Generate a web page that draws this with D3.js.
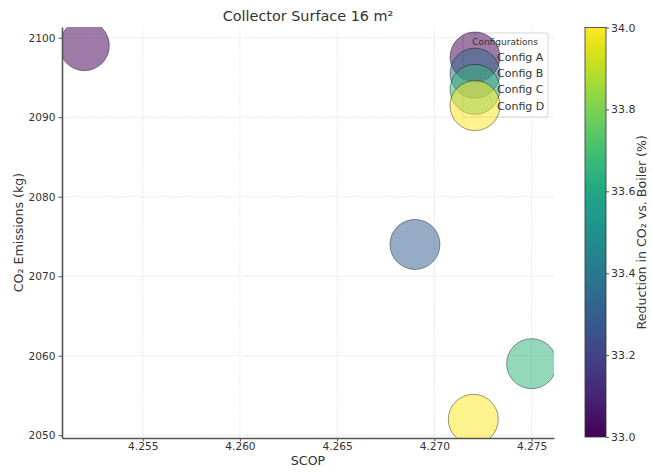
<!DOCTYPE html>
<html>
<head>
<meta charset="utf-8">
<script src="https://cdn.jsdelivr.net/npm/d3@7"></script>
<style>
  html, body { margin: 0; padding: 0; background: #fff; }
  svg { display: block; font-family: "DejaVu Sans", sans-serif; }
</style>
</head>
<body>
<svg id="chart" width="651" height="472"></svg>
<script>
// Bubble chart: SCOP vs CO2 emissions, coloured by CO2 reduction vs. boiler
const configs = ["Config A", "Config B", "Config C", "Config D"];
const scop = [4.252, 4.269, 4.275, 4.272];
const emissions = [2099, 2074, 2059, 2052];
const reduction = [33.0, 33.3, 33.65, 34.0];
const xTicks = [4.255, 4.260, 4.265, 4.270, 4.275];
const yTicks = [2050, 2060, 2070, 2080, 2090, 2100];
const cbTicks = [33.0, 33.2, 33.4, 33.6, 33.8, 34.0];

const svg = d3.select("#chart");
const plot = { left: 62, right: 554, top: 27, bottom: 438 };
const cb = { left: 585, right: 606, top: 27.5, bottom: 437 };
const R = 25;
const fillAlpha = 0.52;
const textColor = "#333";

// 5% padding around the data, like the default autoscale
function padded(vals) {
  const [lo, hi] = d3.extent(vals);
  const m = (hi - lo) * 0.05;
  return [lo - m, hi + m];
}
const x = d3.scaleLinear().domain(padded(scop)).range([plot.left, plot.right]);
const y = d3.scaleLinear().domain(padded(emissions)).range([plot.bottom, plot.top]);
const cExt = [33.0, 34.0];
const color = d3.scaleSequential(d3.interpolateViridis).domain(cExt);

// grid
const grid = svg.append("g").attr("stroke", "#d4d4d4").attr("stroke-width", 0.8)
  .attr("stroke-dasharray", "1.2,1.6");
grid.selectAll("line.v").data(xTicks).join("line")
  .attr("x1", d => x(d)).attr("x2", d => x(d))
  .attr("y1", plot.top).attr("y2", plot.bottom);
grid.selectAll("line.h").data(yTicks).join("line")
  .attr("y1", d => y(d)).attr("y2", d => y(d))
  .attr("x1", plot.left).attr("x2", plot.right);

// bubbles, clipped to the axes area
svg.append("clipPath").attr("id", "plotClip").append("rect")
  .attr("x", plot.left).attr("y", plot.top)
  .attr("width", plot.right - plot.left).attr("height", plot.bottom - plot.top);
svg.append("g").attr("clip-path", "url(#plotClip)")
  .selectAll("circle").data(configs).join("circle")
  .attr("cx", (d, i) => x(scop[i]))
  .attr("cy", (d, i) => y(emissions[i]))
  .attr("r", R)
  .attr("fill", (d, i) => color(reduction[i]))
  .attr("fill-opacity", fillAlpha)
  .attr("stroke", "#000").attr("stroke-opacity", 0.4).attr("stroke-width", 1);

// axes
const xAxis = svg.append("g").attr("transform", `translate(0,${plot.bottom})`)
  .call(d3.axisBottom(x).tickValues(xTicks).tickFormat(d3.format(".3f")).tickSize(3.5).tickSizeOuter(0));
const yAxis = svg.append("g").attr("transform", `translate(${plot.left},0)`)
  .call(d3.axisLeft(y).tickValues(yTicks).tickFormat(d3.format("d")).tickSize(3.5).tickSizeOuter(0));
[xAxis, yAxis].forEach(g => {
  g.select(".domain").attr("stroke", "#555").attr("stroke-width", 1.6);
  g.selectAll(".tick line").attr("stroke", "#555").attr("stroke-width", 1);
  g.selectAll(".tick text").attr("fill", textColor)
    .style("font-size", "10.6px").style("font-family", "DejaVu Sans");
});
xAxis.selectAll(".tick text").attr("y", 4);

// titles
svg.append("text").attr("x", (plot.left + plot.right) / 2).attr("y", 21)
  .attr("text-anchor", "middle").attr("fill", textColor)
  .style("font-size", "14.4px").text("Collector Surface 16 m²");
svg.append("text").attr("x", (plot.left + plot.right) / 2).attr("y", 465)
  .attr("text-anchor", "middle").attr("fill", textColor)
  .style("font-size", "12.6px").text("SCOP");
svg.append("text")
  .attr("transform", `translate(23,${(plot.top + plot.bottom) / 2}) rotate(-90)`)
  .attr("text-anchor", "middle").attr("fill", textColor)
  .style("font-size", "12.6px").text("CO₂ Emissions (kg)");

// legend
const leg = svg.append("g");
const legX = 463, legY = 33, legW = 85, legH = 84;
leg.append("rect").attr("x", legX).attr("y", legY).attr("width", legW).attr("height", legH)
  .attr("rx", 2).attr("fill", "#fff").attr("fill-opacity", 0.8)
  .attr("stroke", "#ccc").attr("stroke-width", 0.8);
const rowY = i => 57 + i * 16.2;
leg.selectAll("circle").data(configs).join("circle")
  .attr("cx", 475).attr("cy", (d, i) => rowY(i)).attr("r", R)
  .attr("fill", (d, i) => color(cExt[0] + i * (cExt[1] - cExt[0]) / 3))
  .attr("fill-opacity", fillAlpha)
  .attr("stroke", "#000").attr("stroke-opacity", 0.4).attr("stroke-width", 1);
leg.append("text").attr("x", 505).attr("y", 45).attr("text-anchor", "middle")
  .attr("fill", textColor).style("font-size", "9px").text("Configurations");
leg.selectAll("text.lab").data(configs).join("text").attr("class", "lab")
  .attr("x", 497).attr("y", (d, i) => rowY(i) + 4)
  .attr("fill", textColor).style("font-size", "11px").text(d => d);

// colour bar
const defs = svg.append("defs");
const grad = defs.append("linearGradient").attr("id", "viridisGrad")
  .attr("x1", 0).attr("y1", 1).attr("x2", 0).attr("y2", 0);
d3.range(0, 1.0001, 0.05).forEach(t => {
  grad.append("stop").attr("offset", t).attr("stop-color", d3.interpolateViridis(t));
});
svg.append("rect").attr("x", cb.left).attr("y", cb.top)
  .attr("width", cb.right - cb.left).attr("height", cb.bottom - cb.top)
  .attr("fill", "url(#viridisGrad)").attr("stroke", "#333").attr("stroke-width", 0.8);
const cy = d3.scaleLinear().domain(cExt).range([cb.bottom, cb.top]);
const cbAxis = svg.append("g").attr("transform", `translate(${cb.right},0)`)
  .call(d3.axisRight(cy).tickValues(cbTicks).tickFormat(d3.format(".1f")).tickSize(3).tickSizeOuter(0));
cbAxis.select(".domain").remove();
cbAxis.selectAll(".tick line").attr("stroke", "#555");
cbAxis.selectAll(".tick text").attr("fill", textColor).attr("x", 5)
  .style("font-size", "11px").style("font-family", "DejaVu Sans");
svg.append("text")
  .attr("transform", `translate(646,${(cb.top + cb.bottom) / 2}) rotate(-90)`)
  .attr("text-anchor", "middle").attr("fill", textColor)
  .style("font-size", "12.6px").text("Reduction in CO₂ vs. Boiler (%)");
</script>
</body>
</html>
